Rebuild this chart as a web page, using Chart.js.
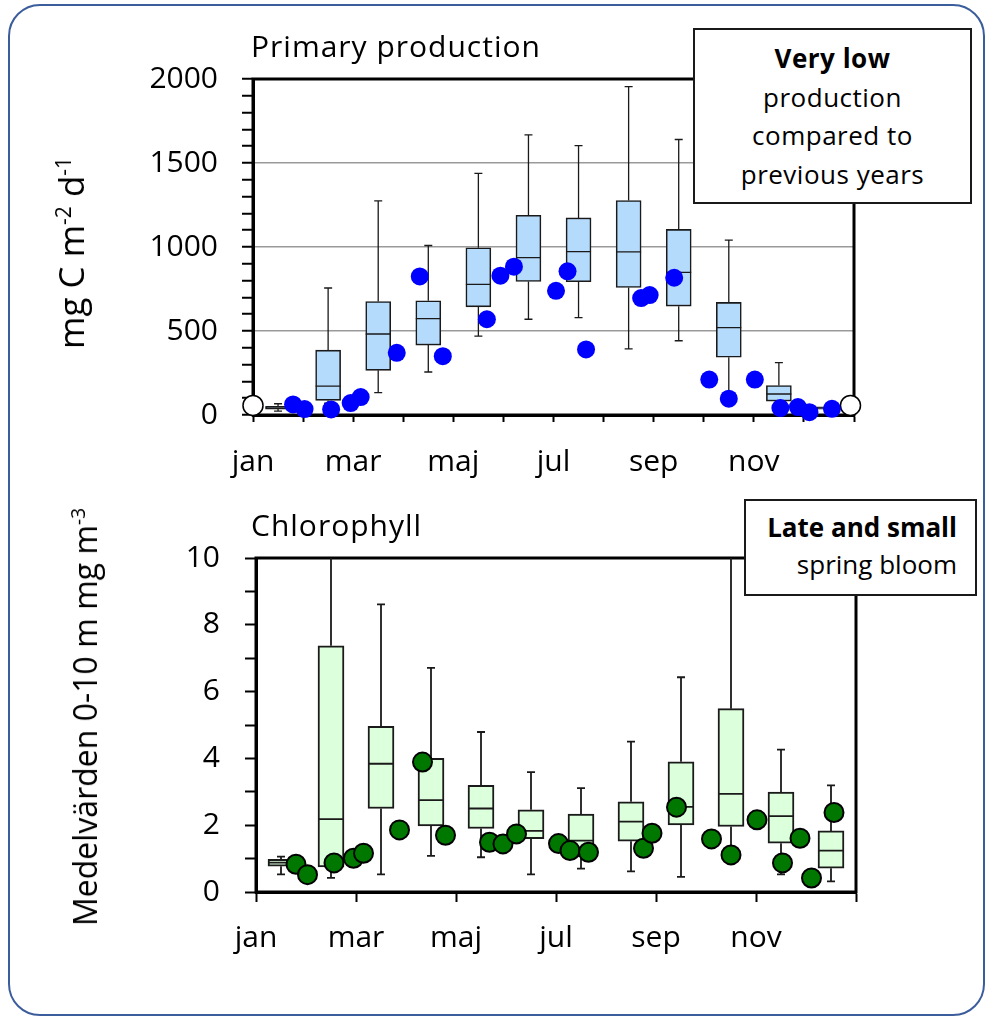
<!doctype html>
<html lang="en">
  <head>
    <meta charset="UTF-8" />
    <title>Primary production and chlorophyll</title>
    <script src="https://cdn.jsdelivr.net/npm/chart.js"></script>
    <style>
      body { margin: 0; background: #fff; font-family: "Open Sans", sans-serif; color: #000; }
      #page { position: relative; width: 992px; height: 1021px; overflow: hidden; }
      #frame {
        position: absolute; left: 8px; top: 4px; width: 977px; height: 1012px;
        box-sizing: border-box; border: 2.5px solid #3c5d9c; border-radius: 32px;
      }
      canvas { position: absolute; left: 0; }
      .title { position: absolute; font-size: 30px; line-height: 30px; white-space: nowrap; letter-spacing: 1px; }
      .note {
        position: absolute; background: #fff; border: 2px solid #1a1a1a;
        box-sizing: border-box; font-size: 26px; z-index: 2;
      }
      .ytitle {
        position: absolute; line-height: 40px; white-space: nowrap;
        transform: translate(-50%, -50%) rotate(-90deg);
      }
      sup { font-size: 60%; line-height: 0; }
    </style>
  </head>
  <body>
    <div id="page">
      <div id="frame"></div>
      <canvas id="ppChart" width="992" height="500" style="top: 0"></canvas>
      <canvas id="chlChart" width="992" height="521" style="top: 500px"></canvas>

      <div class="title" style="left: 251px; top: 31px">Primary production</div>
      <div class="title" style="left: 251px; top: 510px">Chlorophyll</div>
      <div class="ytitle" style="left: 71px; top: 253px; font-size: 35px">mg C m<sup>-2</sup> d<sup>-1</sup></div>
      <div class="ytitle" style="left: 85px; top: 717px; font-size: 32px">Medelvärden 0-10 m mg m<sup>-3</sup></div>

      <div class="note" style="left: 693px; top: 28px; width: 279px; height: 176px; padding-top: 9px; text-align: center; line-height: 38.5px; letter-spacing: 0.5px">
        <b>Very low</b><br />production<br />compared to<br />previous years
      </div>
      <div class="note" style="left: 744px; top: 499px; width: 233px; height: 97px; padding: 8px 18px 0 0; text-align: right; line-height: 37px">
        <b>Late and small</b><br />spring bloom
      </div>
    </div>

    <script>
      const monthLabels = ["jan", "feb", "mar", "apr", "maj", "jun", "jul", "aug", "sep", "okt", "nov", "dec"];
      const monthCentres = [0.5, 1.5, 2.5, 3.5, 4.5, 5.5, 6.5, 7.5, 8.5, 9.5, 10.5, 11.5];

      // primary production, box statistics per month
      const ppMin = [23, 70, 133, 256, 470, 570, 580, 394, 442, 90, 30, 25];
      const ppQ1 = [35, 87, 266, 416, 644, 795, 793, 759, 648, 344, 83, 35];
      const ppMedian = [42, 172, 482, 574, 777, 937, 973, 971, 849, 520, 125, 42];
      const ppQ3 = [52, 386, 675, 680, 995, 1189, 1173, 1277, 1105, 670, 175, 48];
      const ppMax = [67, 756, 1274, 1009, 1438, 1668, 1604, 1955, 1640, 1041, 312, 58];

      // sampling dates (month units) and this year's values
      const sampleDates = [0.8, 1.03, 1.56, 1.95, 2.15, 2.87, 3.33, 3.79, 4.67, 4.94, 5.21, 6.05,
        6.28, 6.65, 7.75, 7.92, 8.41, 9.11, 9.5, 10.02, 10.53, 10.88, 11.11, 11.56];
      const ppValues = [63, 35, 33, 71, 107, 370, 825, 350, 570, 829, 883, 739,
        855, 390, 696, 714, 817, 211, 97, 211, 41, 47, 17, 37];
      const ppEdgeDates = [0, 11.93];
      const ppEdgeValues = [57, 57];

      // chlorophyll, box statistics per month
      const chlMin = [0.53, 0.42, 0.53, 1.08, 1.04, 0.53, 0.7, 0.62, 0.45, 1.1, 0.53, 0.32];
      const chlQ1 = [0.77, 0.75, 2.5, 1.98, 1.9, 1.6, 1.05, 1.52, 2.01, 1.96, 1.46, 0.71];
      const chlMedian = [0.88, 2.18, 3.84, 2.75, 2.5, 1.83, 1.54, 2.11, 2.55, 2.94, 2.27, 1.24];
      const chlQ3 = [0.98, 7.37, 4.96, 4.0, 3.19, 2.46, 2.33, 2.7, 3.9, 5.49, 2.99, 1.83];
      const chlMax = [1.06, 12, 8.61, 6.71, 4.79, 3.59, 3.11, 4.5, 6.43, 11, 4.26, 3.19];
      const chlValues = [0.83, 0.52, 0.87, 1.01, 1.16, 1.86, 3.89, 1.7, 1.49, 1.44, 1.74, 1.45,
        1.24, 1.19, 1.31, 1.76, 2.54, 1.59, 1.11, 2.16, 0.87, 1.61, 0.42, 2.38];

      Chart.defaults.font.family = "'Open Sans', sans-serif";
      Chart.defaults.font.size = 30;
      Chart.defaults.color = "#000";

      // whiskers, caps and median line on top of the floating bars
      const boxWhiskers = {
        id: "boxWhiskers",
        afterDatasetDraw(chart, args) {
          const stats = chart.data.datasets[args.index].stats;
          if (!stats) return;
          const { ctx, chartArea: a, scales: { x, y } } = chart;
          ctx.save();
          ctx.beginPath();
          ctx.rect(a.left, a.top, a.right - a.left, a.bottom - a.top);
          ctx.clip();
          ctx.strokeStyle = "#1a1a1a";
          ctx.lineWidth = stats.lineWidth;
          stats.x.forEach((m, i) => {
            const cx = x.getPixelForValue(m);
            const yMin = y.getPixelForValue(stats.min[i]);
            const yQ1 = y.getPixelForValue(stats.q1[i]);
            const yMed = y.getPixelForValue(stats.med[i]);
            const yQ3 = y.getPixelForValue(stats.q3[i]);
            const yMax = y.getPixelForValue(stats.max[i]);
            const half = stats.width / 2;
            const cap = 4;
            ctx.beginPath();
            ctx.moveTo(cx, yQ3);
            ctx.lineTo(cx, yMax);
            ctx.moveTo(cx - cap, yMax);
            ctx.lineTo(cx + cap, yMax);
            ctx.moveTo(cx, yQ1);
            ctx.lineTo(cx, yMin);
            ctx.moveTo(cx - cap, yMin);
            ctx.lineTo(cx + cap, yMin);
            ctx.moveTo(cx - half, yMed);
            ctx.lineTo(cx + half, yMed);
            ctx.stroke();
          });
          ctx.restore();
        },
      };

      const plotFrame = {
        id: "plotFrame",
        beforeDatasetsDraw(chart) {
          const { ctx, chartArea: a } = chart;
          ctx.save();
          ctx.strokeStyle = "#000";
          ctx.lineWidth = 3;
          ctx.strokeRect(a.left, a.top, a.right - a.left, a.bottom - a.top);
          ctx.restore();
        },
      };

      function points(xs, ys) {
        return xs.map((v, i) => ({ x: v, y: ys[i] }));
      }

      function boxes(q1, q3) {
        return monthCentres.map((m, i) => ({ x: m, y: [q1[i], q3[i]] }));
      }

      // top chart: primary production
      new Chart(document.getElementById("ppChart"), {
        type: "bar",
        data: {
          datasets: [
            {
              type: "scatter",
              data: points(sampleDates, ppValues),
              backgroundColor: "#0000ff",
              borderWidth: 0,
              pointRadius: 9,
              clip: false,
              order: 0,
            },
            {
              type: "scatter",
              data: points(ppEdgeDates, ppEdgeValues),
              backgroundColor: "#fff",
              borderColor: "#000",
              borderWidth: 1.5,
              pointRadius: 10,
              clip: false,
              order: 0,
            },
            {
              type: "bar",
              data: boxes(ppQ1, ppQ3),
              backgroundColor: "#b4dafc",
              borderColor: "#1a1a1a",
              borderWidth: 1.6,
              borderSkipped: false,
              barThickness: 25,
              stats: { x: monthCentres, min: ppMin, q1: ppQ1, med: ppMedian, q3: ppQ3, max: ppMax, width: 25, lineWidth: 1.3 },
              order: 2,
            },
          ],
        },
        options: {
          responsive: false,
          animation: false,
          layout: { padding: { left: 113, top: 79, right: 138, bottom: 5 } },
          plugins: { legend: { display: false }, tooltip: { enabled: false } },
          scales: {
            x: {
              type: "linear",
              min: 0,
              max: 12,
              offset: false,
              afterFit: (s) => { s.height = 80; },
              border: { color: "#000", width: 3 },
              grid: { offset: false, drawOnChartArea: false, tickLength: 7, tickColor: "#000", tickWidth: 2 },
              ticks: {
                stepSize: 1,
                autoSkip: false,
                maxRotation: 0,
                padding: 22,
                callback: (v) => (v % 2 === 0 && v < 12 ? monthLabels[v] : ""),
              },
            },
            y: {
              min: 0,
              max: 2000,
              afterFit: (s) => { s.width = 140; },
              border: { color: "#000", width: 3 },
              grid: {
                color: (c) => (c.tick && c.tick.value % 500 === 0 && c.tick.value > 0 && c.tick.value < 2000 ? "#9a9a9a" : "rgba(0,0,0,0)"),
                lineWidth: 1.5,
                tickLength: 11,
                tickColor: "#000",
                tickWidth: 2,
              },
              ticks: {
                stepSize: 100,
                maxTicksLimit: 100,
                autoSkip: false,
                padding: 24,
                callback: (v) => (v % 500 === 0 ? v : ""),
              },
            },
          },
        },
        plugins: [plotFrame, boxWhiskers],
      });

      // bottom chart: chlorophyll
      new Chart(document.getElementById("chlChart"), {
        type: "bar",
        data: {
          datasets: [
            {
              type: "scatter",
              data: points(sampleDates, chlValues),
              backgroundColor: "#007800",
              borderColor: "#000",
              borderWidth: 2,
              pointRadius: 9.5,
              clip: false,
              order: 0,
            },
            {
              type: "bar",
              data: boxes(chlQ1, chlQ3),
              backgroundColor: "#dcffdc",
              borderColor: "#1a1a1a",
              borderWidth: 2,
              borderSkipped: false,
              barThickness: 26,
              stats: { x: monthCentres, min: chlMin, q1: chlQ1, med: chlMedian, q3: chlQ3, max: chlMax, width: 26, lineWidth: 1.8 },
              order: 2,
            },
          ],
        },
        options: {
          responsive: false,
          animation: false,
          layout: { padding: { left: 116, top: 58, right: 136, bottom: 49 } },
          plugins: { legend: { display: false }, tooltip: { enabled: false } },
          scales: {
            x: {
              type: "linear",
              min: 0,
              max: 12,
              offset: false,
              afterFit: (s) => { s.height = 80; },
              border: { color: "#000", width: 3 },
              grid: { offset: false, drawOnChartArea: false, tickLength: 10, tickColor: "#000", tickWidth: 2 },
              ticks: {
                stepSize: 2,
                autoSkip: false,
                maxRotation: 0,
                padding: 18,
                callback: (v) => (v < 12 ? monthLabels[v] : ""),
              },
            },
            y: {
              min: 0,
              max: 10,
              afterFit: (s) => { s.width = 140; },
              border: { color: "#000", width: 3 },
              grid: { offset: false, drawOnChartArea: false, tickLength: 11, tickColor: "#000", tickWidth: 2 },
              ticks: {
                stepSize: 1,
                maxTicksLimit: 100,
                autoSkip: false,
                padding: 25,
                callback: (v) => (v % 2 === 0 ? v : ""),
              },
            },
          },
        },
        plugins: [plotFrame, boxWhiskers],
      });
    </script>
  </body>
</html>
